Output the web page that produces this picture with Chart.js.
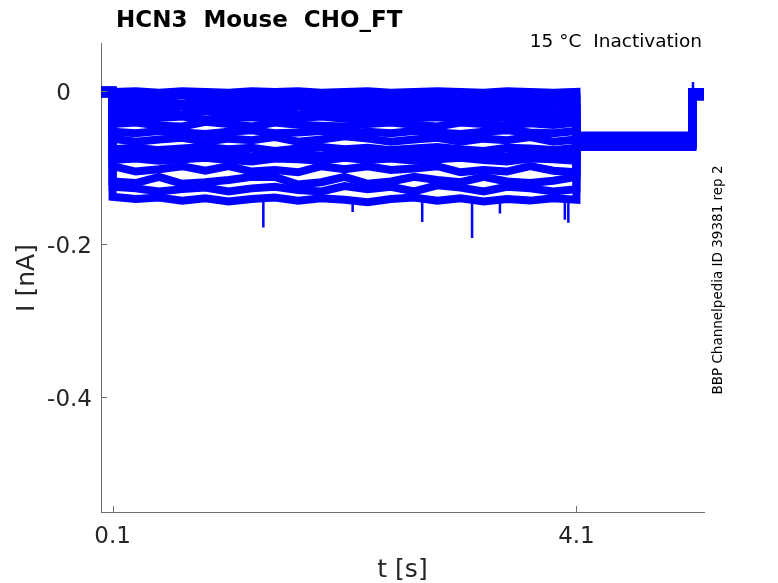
<!DOCTYPE html>
<html>
<head>
<meta charset="utf-8">
<script src="https://cdn.jsdelivr.net/npm/chart.js@4.4.1/dist/chart.umd.min.js"></script>
<style>
  html, body { margin: 0; padding: 0; background: #fff; }
  #wrap { width: 778px; height: 583px; position: relative; }
</style>
</head>
<body>
<div id="wrap"><canvas id="chart"></canvas></div>
<script>
// time axis [s] and tick labels
const xTicks = [0.1, 4.1]
const xTickText = ['0.1', '4.1']
const yTicks = [0, -0.2, -0.4]
const yTickText = ['0', '-0.2', '-0.4']

// samples taken during the 0.1 .. 4.1 s test step
const stepTimes = [0.1, 0.3, 0.5, 0.7, 0.9, 1.1, 1.3, 1.5, 1.7, 1.9, 2.1, 2.3, 2.5, 2.7, 2.9, 3.1, 3.3, 3.5, 3.7, 3.9, 4.1]

// current [nA] of each sweep during the step
const sweep01 = [-0.001, 0.000, -0.002, 0.000, -0.001, -0.002, 0.000, -0.001, 0.000, -0.002, -0.001, 0.000, -0.002, -0.001, 0.000, -0.001, -0.002, 0.000, -0.001, -0.002, -0.001]
const sweep02 = [-0.006, -0.008, -0.007, -0.005, -0.008, -0.006, -0.007, -0.009, -0.006, -0.007, -0.005, -0.008, -0.007, -0.006, -0.008, -0.007, -0.005, -0.007, -0.008, -0.006, -0.007]
const sweep03 = [-0.015, -0.013, -0.014, -0.016, -0.013, -0.015, -0.012, -0.014, -0.016, -0.013, -0.015, -0.014, -0.012, -0.015, -0.013, -0.016, -0.014, -0.013, -0.015, -0.014, -0.013]
const sweep04 = [-0.020, -0.022, -0.021, -0.019, -0.023, -0.021, -0.020, -0.022, -0.019, -0.021, -0.023, -0.020, -0.022, -0.021, -0.019, -0.022, -0.020, -0.023, -0.021, -0.020, -0.022]
const sweep05 = [-0.029, -0.027, -0.028, -0.030, -0.026, -0.029, -0.028, -0.027, -0.030, -0.028, -0.026, -0.029, -0.027, -0.030, -0.028, -0.027, -0.029, -0.026, -0.028, -0.030, -0.027]
const sweep06 = [-0.034, -0.036, -0.035, -0.033, -0.037, -0.035, -0.034, -0.036, -0.035, -0.033, -0.036, -0.034, -0.037, -0.035, -0.034, -0.036, -0.033, -0.035, -0.037, -0.034, -0.036]
const sweep07 = [-0.043, -0.041, -0.045, -0.046, -0.040, -0.043, -0.046, -0.041, -0.044, -0.045, -0.046, -0.043, -0.041, -0.044, -0.046, -0.041, -0.043, -0.045, -0.042, -0.044, -0.041]
const sweep08 = [-0.053, -0.055, -0.052, -0.054, -0.056, -0.053, -0.051, -0.055, -0.054, -0.052, -0.056, -0.053, -0.055, -0.052, -0.054, -0.056, -0.053, -0.051, -0.054, -0.055, -0.052]
const sweep09 = [-0.062, -0.066, -0.063, -0.061, -0.066, -0.062, -0.064, -0.060, -0.066, -0.063, -0.059, -0.062, -0.066, -0.063, -0.061, -0.066, -0.062, -0.064, -0.060, -0.066, -0.063]
const sweep10 = [-0.076, -0.074, -0.077, -0.075, -0.073, -0.076, -0.074, -0.078, -0.075, -0.073, -0.076, -0.074, -0.077, -0.075, -0.073, -0.076, -0.078, -0.074, -0.075, -0.077, -0.074]
const sweep11 = [-0.083, -0.081, -0.084, -0.082, -0.080, -0.083, -0.085, -0.081, -0.082, -0.084, -0.080, -0.083, -0.081, -0.084, -0.082, -0.080, -0.083, -0.085, -0.081, -0.082, -0.084]
const sweep12 = [-0.090, -0.088, -0.091, -0.089, -0.087, -0.090, -0.092, -0.088, -0.089, -0.091, -0.087, -0.090, -0.088, -0.091, -0.089, -0.087, -0.090, -0.092, -0.088, -0.089, -0.091]
const sweep13 = [-0.098, -0.105, -0.102, -0.098, -0.104, -0.098, -0.105, -0.103, -0.106, -0.098, -0.102, -0.098, -0.103, -0.101, -0.098, -0.106, -0.103, -0.105, -0.098, -0.104, -0.106]
const sweep14 = [-0.118, -0.120, -0.112, -0.121, -0.119, -0.116, -0.112, -0.112, -0.122, -0.119, -0.112, -0.121, -0.118, -0.112, -0.116, -0.119, -0.112, -0.118, -0.120, -0.117, -0.112]
const sweep15 = [-0.125, -0.127, -0.131, -0.128, -0.126, -0.131, -0.127, -0.125, -0.129, -0.131, -0.124, -0.128, -0.125, -0.131, -0.123, -0.126, -0.131, -0.125, -0.127, -0.131, -0.128]
const sweep16 = [-0.138, -0.141, -0.139, -0.143, -0.140, -0.144, -0.141, -0.139, -0.143, -0.140, -0.142, -0.145, -0.141, -0.139, -0.143, -0.140, -0.144, -0.141, -0.143, -0.140, -0.142]
const stepSweeps = [sweep01, sweep02, sweep03, sweep04, sweep05, sweep06, sweep07, sweep08,
                    sweep09, sweep10, sweep11, sweep12, sweep13, sweep14, sweep15, sweep16]

// holding level before the step, tail level 4.1..5.1 s, level after the jump
const preLevels  = [0.001, -0.001, 0.000, -0.003, -0.001, 0.001, -0.002, 0.000, -0.003, -0.001, 0.000, -0.002, 0.001, -0.001, 0.000, -0.003]
const tailLevels = [-0.058, -0.066, -0.061, -0.070, -0.063, -0.072, -0.059, -0.067, -0.064, -0.071, -0.060, -0.068, -0.062, -0.069, -0.065, -0.073]
const postLevels = [-0.002, -0.005, -0.001, -0.004, -0.007, -0.001, -0.005, -0.003, -0.006, -0.001, -0.004, -0.006, -0.002, -0.007, -0.003, -0.005]
const tStart = 0
const tStepOn = 0.1
const tStepOff = 4.1
const tJump = 5.1
const tEnd = 5.2

// sharp downward glitches in the step and the jump artefact at 5.1 s
const glitchTimes = [1.40, 2.17, 2.77, 3.20, 3.44, 4.00, 4.03]
const glitchPeaks = [-0.178, -0.158, -0.171, -0.192, -0.160, -0.168, -0.172]
const glitchBase = -0.142
const jumpTime = 5.105
const jumpPeak = 0.012

const blue = '#0000ff'
let datasets = []

stepSweeps.forEach(function (vals, i) {
    let pts = [{x: tStart, y: preLevels[i]}, {x: tStepOn, y: preLevels[i]}]
    stepTimes.forEach(function (t, k) { pts.push({x: t, y: vals[k]}) })
    pts.push({x: tStepOff, y: tailLevels[i]})
    pts.push({x: tJump, y: tailLevels[i]})
    pts.push({x: tJump, y: postLevels[i]})
    pts.push({x: tEnd, y: postLevels[i]})
    datasets.push({data: pts, borderColor: blue, borderWidth: 8})
})

let glitchPts = []
glitchTimes.forEach(function (t, k) {
    glitchPts.push({x: t, y: glitchBase}, {x: t, y: glitchPeaks[k]}, {x: t, y: null})
})
glitchPts.push({x: jumpTime, y: tailLevels[0]}, {x: jumpTime, y: jumpPeak})
datasets.push({data: glitchPts, borderColor: blue, borderWidth: 2.5, spanGaps: false})

const axisGray = '#707070'
const textGray = '#262626'

const decor = {
    id: 'decor',
    afterDraw: function (chart) {
        let ctx = chart.ctx
        let a = chart.chartArea
        let xs = chart.scales.x
        let ys = chart.scales.y
        ctx.save()
        // tick marks inside the axes
        ctx.strokeStyle = axisGray
        ctx.lineWidth = 1
        xTicks.forEach(function (v) {
            let px = Math.round(xs.getPixelForValue(v)) + 0.5
            ctx.beginPath(); ctx.moveTo(px, a.bottom); ctx.lineTo(px, a.bottom - 6); ctx.stroke()
        })
        yTicks.forEach(function (v) {
            let py = Math.round(ys.getPixelForValue(v)) + 0.5
            ctx.beginPath(); ctx.moveTo(a.left, py); ctx.lineTo(a.left + 6, py); ctx.stroke()
        })
        // tick labels
        ctx.fillStyle = textGray
        ctx.font = '23px "DejaVu Sans"'
        ctx.textBaseline = 'alphabetic'
        ctx.textAlign = 'center'
        xTicks.forEach(function (v, i) {
            ctx.fillText(xTickText[i], xs.getPixelForValue(v), a.bottom + 31)
        })
        ctx.textAlign = 'right'
        yTicks.forEach(function (v, i) {
            let right = v === 0 ? a.left - 30 : a.left - 9
            ctx.fillText(yTickText[i], right, ys.getPixelForValue(v) + 8.5)
        })
        // axis labels
        ctx.font = '25px "DejaVu Sans"'
        ctx.textAlign = 'center'
        ctx.fillText('t [s]', (a.left + a.right) / 2, 577)
        ctx.save()
        ctx.translate(27, 278)
        ctx.rotate(-Math.PI / 2)
        ctx.textBaseline = 'middle'
        ctx.fillText('I [nA]', 0, 0)
        ctx.restore()
        // title and notes
        ctx.fillStyle = '#000'
        ctx.textAlign = 'left'
        ctx.font = 'bold 23px "DejaVu Sans"'
        ctx.fillText('HCN3  Mouse  CHO_FT', 116, 27)
        ctx.textAlign = 'right'
        ctx.font = '18.5px "DejaVu Sans"'
        ctx.fillText('15 \u00B0C  Inactivation', 702, 47)
        ctx.save()
        ctx.translate(718, 280)
        ctx.rotate(-Math.PI / 2)
        ctx.textAlign = 'center'
        ctx.textBaseline = 'middle'
        ctx.font = '13.5px "DejaVu Sans"'
        ctx.fillText('BBP Channelpedia ID 39381 rep 2', 0, 0)
        ctx.restore()
        ctx.restore()
    }
}

new Chart(document.getElementById('chart').getContext('2d'), {
    type: 'line',
    data: {datasets: datasets},
    options: {
        responsive: true,
        maintainAspectRatio: false,
        animation: false,
        layout: {padding: {left: 0, right: 74, top: 43, bottom: 0}},
        plugins: {legend: {display: false}, tooltip: {enabled: false}},
        elements: {point: {radius: 0}, line: {tension: 0}},
        scales: {
            x: {
                type: 'linear', min: 0, max: 5.2,
                grid: {display: false},
                border: {display: true, color: axisGray, width: 1},
                ticks: {display: false},
                afterFit: function (s) { s.height = 71 }
            },
            y: {
                type: 'linear', min: -0.55, max: 0.063,
                grid: {display: false},
                border: {display: true, color: axisGray, width: 1},
                ticks: {display: false},
                afterFit: function (s) { s.width = 101 }
            }
        }
    },
    plugins: [decor]
})
</script>
</body>
</html>
